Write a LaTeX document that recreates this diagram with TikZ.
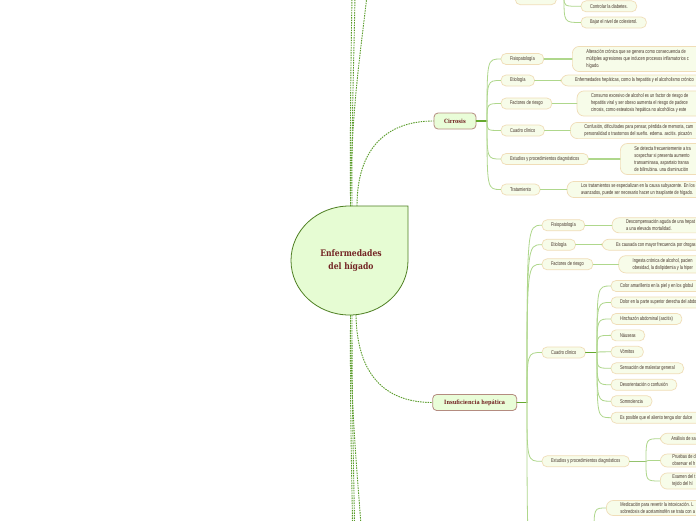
\documentclass[tikz,border=0pt]{standalone}
\usepackage{fontspec}
\usepackage{xcolor}
\usetikzlibrary{calc}
\newfontfamily\boxfont[FakeStretch=0.72]{Liberation Sans}
\newfontfamily\headfont[FakeStretch=0.85]{DejaVu Serif}
\definecolor{boxfill}{HTML}{F7FCE9}
\definecolor{boxline}{HTML}{F0DDB8}
\definecolor{mainfill}{HTML}{E9FDD8}
\definecolor{mainline}{HTML}{B48C80}
\definecolor{txt}{HTML}{45342A}
\definecolor{headtxt}{HTML}{732424}
\definecolor{twiggreen}{HTML}{AFD78C}
\definecolor{stemgreen}{HTML}{66A82E}
\definecolor{dashgreen}{HTML}{5A9C2A}
\definecolor{rootline}{HTML}{4E7F22}
\definecolor{rootfill}{HTML}{E6FCD3}

\begin{document}
\begin{tikzpicture}[x=1pt,y=1pt,line cap=round,
  leaf/.style={draw=boxline,fill=boxfill,rounded corners=5pt,line width=0.7pt,font=\boxfont\fontsize{5.5}{7}\selectfont,text=txt,inner xsep=9pt,inner ysep=0pt,minimum height=11pt,anchor=west},
  note/.style={leaf,align=left,inner xsep=14pt,inner ysep=3pt,rounded corners=7pt},
  topic/.style={draw=mainline,fill=mainfill,rounded corners=4pt,line width=0.8pt,font=\headfont\bfseries\fontsize{5.8}{7}\selectfont,text=headtxt,minimum height=16pt,inner xsep=5pt},
  twig/.style={draw=twiggreen,line width=0.8pt},
  stem/.style={draw=stemgreen,line width=1.6pt},
  link/.style={draw=dashgreen,line width=0.9pt,line cap=butt,dash pattern=on 1.5pt off 1pt}]
  \useasboundingbox (0,0) rectangle (696,-520);
  \clip (0,0) rectangle (696,-520);
  \fill[white] (0,0) rectangle (696,-520);

  % root
  \filldraw[fill=rootfill,draw=rootline,line width=0.8pt] (408,-206) -- (408,-260.5) arc[start angle=0,end angle=-270,x radius=58.5,y radius=54.5] -- cycle;
  \node[font=\headfont\bfseries\fontsize{9}{13}\selectfont,text=headtxt,align=center] (root) at (351,-261) {Enfermedades\\del hígado};
  \coordinate (rootN) at (350.5,-206);
  \coordinate (rootN2) at (357,-206);
  \coordinate (rootS) at (350.5,-315);
  \coordinate (rootS2) at (356,-315);
  \coordinate (upA) at (352,5);
  \coordinate (upB) at (355,5);
  \coordinate (upC) at (367,5);
  \coordinate (dnA) at (352.5,-525);
  \coordinate (dnB) at (354.5,-525);
  \coordinate (dnC) at (361,-525);
  \draw[link] (rootN) .. controls (350,-120) and (351,-60) .. (upA);
  \draw[link] ([xshift=1.5pt]rootN) .. controls (351.5,-120) and (354,-60) .. (upB);
  \draw[link] (rootN) .. controls (351,-110) and (361,-50) .. (upC);
  \draw[link] (rootS) .. controls (350,-420) and (352,-480) .. (dnA);
  \draw[link] ([xshift=1.5pt]rootS) .. controls (352,-420) and (354,-480) .. (dnB);
  \draw[link] (rootS) .. controls (351,-410) and (357,-470) .. (dnC);

  % Cirrosis
  \node[topic,minimum width=42pt] (cir) at (455,-121) {Cirrosis};
  \draw[link] (rootN2) .. controls (357,-150) and (385,-121) .. (cir.west);
  \coordinate (cirJ) at (487,-121);
  \draw[stem] (cir.east) -- (cirJ);
  \foreach \n/\y/\t in {cfis/59/Fisiopatología, ceti/80.5/Etiología, cfac/103.5/Factores de riesgo, ccua/130.5/Cuadro clínico, cest/159/Estudios y procedimientos diagnósticos, ctra/189.5/Tratamiento} {
    \node[leaf] (\n) at (500.7,-\y) {\t};
    \draw[twig] (cirJ) .. controls (cirJ |- \n) .. (\n.west);
  }
  \node[note] (cfisN) at (572,-59) {Alteración crónica que se genera como consecuencia de\\múltiples agresiones que inducen procesos inflamatorios c\\hígado.};
  \node[note,inner ysep=0pt] (cetiN) at (560.7,-80.5) {Enfermedades hepáticas, como la hepatitis y el alcoholismo crónico};
  \node[note] (cfacN) at (576.7,-103.5) {Consumo excesivo de alcohol es un factor de riesgo de\\hepatitis viral y ser obeso aumenta el riesgo de padece\\cirrosis, como esteatosis hepática no alcohólica y este};
  \node[note,inner ysep=2pt] (ccuaN) at (570,-130.5) {Confusión, dificultades para pensar, pérdida de memoria, cam\\personalidad o trastornos del sueño. edema. ascitis. picazón};
  \node[note] (cestN) at (620,-159) {Se detecta frecuentemente a tra\\sospechar si presenta aumento\\transaminasa, aspartato transa\\de bilirrubina. una disminución};
  \node[note,inner ysep=2pt] (ctraN) at (566.7,-189.5) {Los tratamientos se especializan en la causa subyacente. En los c\\avanzados, puede ser necesario hacer un trasplante de hígado.};
  \foreach \n in {cfis,ceti,cfac,ccua,cest,ctra}
    \draw[twig,line width=1.2pt] (\n.east) -- (\n N.west);

  % Insuficiencia hepatica
  \node[topic,minimum width=84pt] (ins) at (474.7,-402.5) {Insuficiencia hepática};
  \draw[link] (rootS2) .. controls (357,-380) and (390,-402.5) .. (ins.west);
  \coordinate (insJ) at (527,-402.5);
  \draw[stem] (ins.east) -- (insJ);
  \foreach \n/\y/\t in {ifis/225.3/Fisiopatología, ieti/244.7/Etiología, ifac/264.3/Factores de riesgo, icua/352.5/Cuadro clínico, iest/461.3/Estudios y procedimientos diagnósticos} {
    \node[leaf] (\n) at (541.7,-\y) {\t};
    \draw[twig] (insJ) .. controls (insJ |- \n) .. (\n.west);
  }
  \coordinate (itra) at (541.7,-565);
  \draw[twig] (insJ) .. controls (insJ |- itra) .. (itra);
  \node[note,inner ysep=2pt] (ifisN) at (611.7,-225.3) {Descompensación aguda de una hepat\\a una elevada mortalidad.};
  \node[note,inner ysep=0pt] (ietiN) at (601.7,-244.7) {Es causada con mayor frecuencia por drogas y};
  \node[note,inner ysep=2.5pt] (ifacN) at (618.3,-264.3) {Ingesta crónica de alcohol, pacien\\obesidad, la dislipidemia y la hiper};
  \foreach \n in {ifis,ieti,ifac}
    \draw[twig,line width=1.2pt] (\n.east) -- (\n N.west);

  % cuadro clinico
  \coordinate (cuJ) at (597,-352.5);
  \draw[stem,line width=1pt] (icua.east) -- (cuJ);
  \foreach \t [count=\i from 0] in {Color amarillento en la piel y en los globul, Dolor en la parte superior derecha del abdo, Hinchazón abdominal (ascitis), Náuseas, Vómitos, Sensación de malestar general, Desorientación o confusión, Somnolencia, Es posible que el aliento tenga olor dulce} {
    \node[leaf] (sym\i) at (610.7,{-286-16.46*\i}) {\t};
    \draw[twig] (cuJ) .. controls (cuJ |- sym\i) .. (sym\i.west);
  }

  % estudios
  \coordinate (esJ) at (646,-461.3);
  \draw[stem,draw=stemgreen!70,line width=1.4pt] (iest.east) -- (esJ);
  \node[note,inner xsep=11pt,inner ysep=0pt] (ana) at (660,-438.7) {Análisis de san};
  \node[note,inner xsep=12pt,inner ysep=1pt] (pru) at (660,-460.5) {Pruebas de d\\observar el h};
  \node[note,inner xsep=12pt,inner ysep=2pt] (exa) at (660,-481) {Examen del t\\tejido del hí};
  \foreach \n in {ana,pru,exa}
    \draw[twig] (esJ) .. controls (esJ |- \n) .. (\n.west);

  % tratamiento (below)
  \coordinate (imedJ) at (594,-535);
  \node[note,inner ysep=2pt] (imed) at (606,-508) {Medicación para revertir la intoxicación. L\\sobredosis de acetaminofén se trata con a};
  \draw[twig] (imedJ) .. controls (imedJ |- imed) .. (imed.west);

  % top
  \node[leaf,minimum width=41pt,minimum height=12pt] (prev) at (515,1.3) {};
  \node[leaf] (ctrl) at (580.7,-6.3) {Controlar la diabetes.};
  \node[leaf] (bajar) at (580.7,-22.5) {Bajar el nivel de colesterol.};
  \coordinate (topJ) at (564,3);
  \foreach \n in {ctrl,bajar}
    \draw[twig] (topJ) .. controls (topJ |- \n) .. (\n.west);
\end{tikzpicture}
\end{document}
